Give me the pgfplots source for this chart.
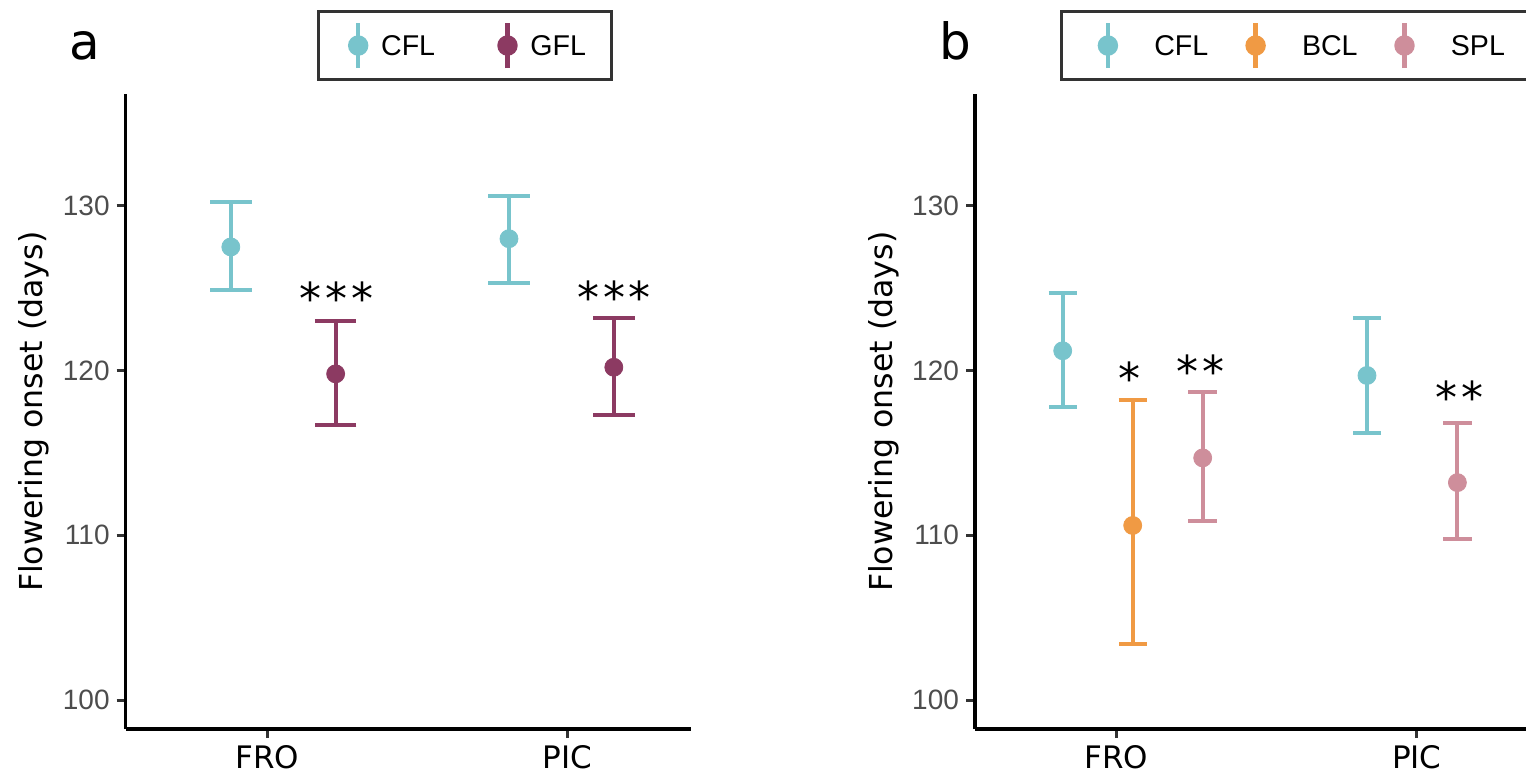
\documentclass[border=0pt]{standalone}
\usepackage{pgfplots}
\pgfplotsset{compat=1.18}
\usepackage{fontspec}
\setmainfont{DejaVu Sans}
\newfontfamily\lib{Liberation Sans}

\definecolor{cfl}{RGB}{120,196,204}
\definecolor{gfl}{RGB}{140,58,98}
\definecolor{bcl}{RGB}{240,154,68}
\definecolor{spl}{RGB}{206,142,155}
\definecolor{gray30}{RGB}{77,77,77}
\definecolor{gray20}{RGB}{51,51,51}

\pgfplotsset{
  onset/.style={
    scale only axis, width=282.5pt, height=317.25pt,
    xmin=0.529, xmax=2.41, ymin=98.25, ymax=136.75,
    clip=false,
    axis x line*=bottom, axis y line*=left,
    axis line style={black, line width=1.75pt},
    xtick={1,2}, xticklabels={FRO,PIC},
    ytick={100,110,120,130},
    tick align=outside, major tick length=4.5pt,
    tick style={gray20, line width=1.5pt},
    /pgf/number format/assume math mode=true,
    xticklabel style={font=\fontsize{15.5}{16}\selectfont, text=black},
    yticklabel style={font=\lib\fontsize{14}{14}\selectfont, text=gray30},
    ylabel={Flowering onset (days)},
    ylabel style={at={([xshift=-45.85pt]axis description cs:0,0.5)}, anchor=center,
      font=\fontsize{15.8}{16}\selectfont},
    legend cell align=left,
  },
  % one group of points with asymmetric error bars
  grp/.style n args={2}{forget plot, only marks, mark=*, mark size=4.5pt, color=#1,
    mark options={draw=none, fill=#1},
    error bars/.cd, y dir=both, y explicit,
    error bar style={line width=2pt, color=#1},
    error mark options={rotate=90, line width=2pt, mark size=#2, color=#1},
    /pgfplots/.cd},
}
\tikzset{stars/.style={anchor=base, font=\fontsize{22}{22}\selectfont}}
\newcommand{\st}{\kern1.85pt}

\begin{document}
\begin{tikzpicture}
\useasboundingbox (0,0) rectangle (763pt,388.5pt);
\clip (0,0) rectangle (763pt,388.5pt);

% panel a
\begin{axis}[onset, at={(62.85pt,24pt)}, anchor=south west,
  legend columns=2,
  legend style={at={(axis description cs:0,1)}, anchor=south west,
    xshift=95.65pt, yshift=6.5pt, draw=gray20, line width=1.6pt,
    inner sep=0pt, font=\lib\fontsize{14.3}{14}\selectfont,
    nodes={inner sep=0pt, text depth=0pt}, column sep=0pt},
  legend image code/.code={
    \path[draw=none, fill=none] (-19.8pt,-17.17pt) rectangle (11.45pt,17.17pt);
    \draw[line width=2.2pt] (0,-11.25pt) -- (0,11.25pt);
    \fill (0,0) circle (4.3pt);}
]
\addlegendimage{color=cfl}
\addlegendentry{\makebox[43.4pt][l]{CFL}}
\addlegendimage{color=gfl}
\addlegendentry{\makebox[40.6pt][l]{GFL}}

\addplot[grp={cfl}{10.4pt}] coordinates {
  (0.879,127.5) += (0,2.7) -= (0,2.6)
  (1.805,128.0) += (0,2.6) -= (0,2.7)
};
\addplot[grp={gfl}{10.4pt}] coordinates {
  (1.228,119.8) += (0,3.2) -= (0,3.1)
  (2.154,120.2) += (0,3.0) -= (0,2.9)
};
\node[stars] at (axis cs:1.231,123.40) {*\st*\st*};
\node[stars] at (axis cs:2.155,123.44) {*\st*\st*};
\end{axis}

% panel b
\begin{axis}[onset, at={(487.5pt,24pt)}, anchor=south west,
  legend columns=3,
  legend style={at={(axis description cs:0,1)}, anchor=south west,
    xshift=42.5pt, yshift=6.5pt, draw=gray20, line width=1.6pt,
    inner sep=0pt, font=\lib\fontsize{14.3}{14}\selectfont,
    nodes={inner sep=0pt, text depth=0pt}, column sep=0pt},
  legend image code/.code={
    \path[draw=none, fill=none] (-23.15pt,-17.17pt) rectangle (23.2pt,17.17pt);
    \draw[line width=2.2pt] (0,-11.25pt) -- (0,11.25pt);
    \fill (0,0) circle (4.3pt);}
]
\addlegendimage{color=cfl}
\addlegendentry{\makebox[27.5pt][l]{CFL}}
\addlegendimage{color=bcl}
\addlegendentry{\makebox[28.1pt][l]{BCL}}
\addlegendimage{color=spl}
\addlegendentry{\makebox[90pt][l]{SPL}}

\addplot[grp={cfl}{7.1pt}] coordinates {
  (0.821,121.2) += (0,3.5) -= (0,3.4)
  (1.834,119.7) += (0,3.5) -= (0,3.5)
};
\addplot[grp={bcl}{7.1pt}] coordinates {
  (1.054,110.6) += (0,7.6) -= (0,7.2)
};
\addplot[grp={spl}{7.1pt}] coordinates {
  (1.287,114.7) += (0,4.0) -= (0,3.8)
  (2.135,113.2) += (0,3.6) -= (0,3.4)
};
\node[stars] at (axis cs:1.043,118.57) {*};
\node[stars] at (axis cs:1.279,118.95) {*\st*};
\node[stars] at (axis cs:2.143,117.37) {*\st*};
\end{axis}

\node[anchor=base, font=\fontsize{25}{25}\selectfont] at (42.5pt,358.5pt) {a};
\node[anchor=base, font=\fontsize{25}{25}\selectfont] at (477.5pt,358.5pt) {b};
\end{tikzpicture}
\end{document}
